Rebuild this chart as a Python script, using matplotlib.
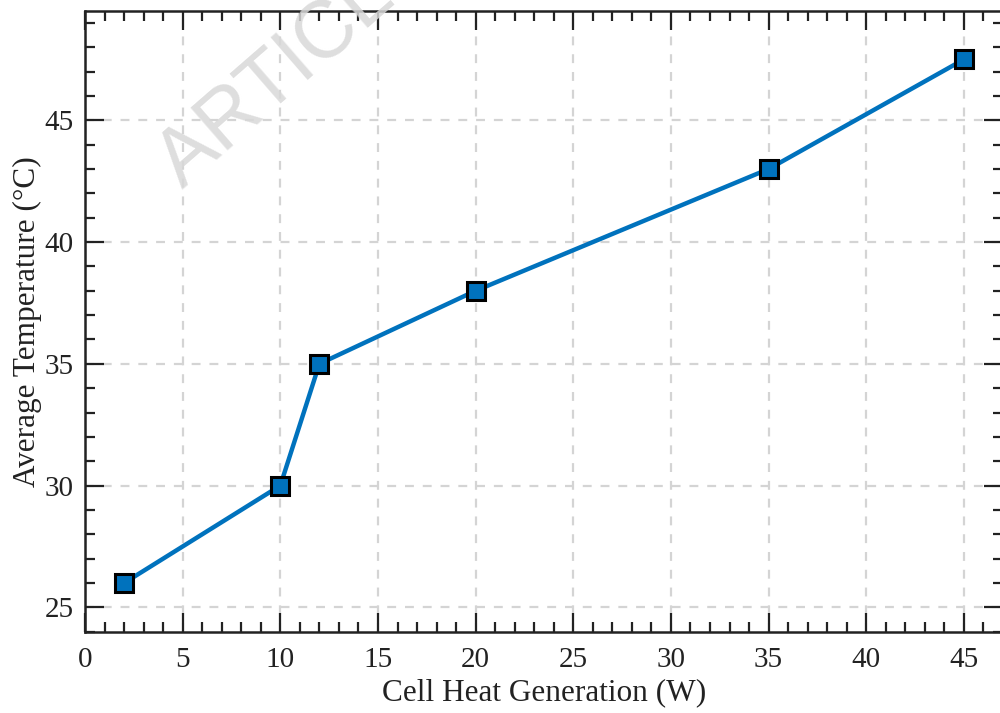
import numpy as np
import matplotlib
matplotlib.use("Agg")
import matplotlib.pyplot as plt
from matplotlib.ticker import MultipleLocator

# cell heat generation (W) vs. average temperature (deg C)
heat_w = [2, 10, 12, 20, 35, 45]
avg_temp = [26, 30, 35, 38, 43, 47.5]

x_ticks = [0, 5, 10, 15, 20, 25, 30, 35, 40, 45]
y_ticks = [25, 30, 35, 40, 45]

plt.rcParams["font.family"] = ["Liberation Serif", "DejaVu Serif"]

fig = plt.figure(figsize=(10, 7.13), dpi=100)
ax = fig.add_axes([0.085, 0.114, 0.918, 0.871])

ax.grid(True, which="major", color="#d4d4d4", linestyle=(0, (4, 4)), linewidth=1.6)
ax.set_axisbelow(True)

ax.plot(heat_w, avg_temp, color="#0072BD", linewidth=3.2, marker="s",
        markersize=13, markerfacecolor="#0072BD", markeredgecolor="black",
        markeredgewidth=2.2, zorder=3)

ax.set_xlim(0, 47)
ax.set_ylim(24, 49.5)
ax.set_xticks(x_ticks)
ax.set_yticks(y_ticks)
ax.xaxis.set_minor_locator(MultipleLocator(1))
ax.yaxis.set_minor_locator(MultipleLocator(1))

ax.tick_params(which="both", direction="in", top=True, right=True,
               labelsize=21, colors="#222222")
ax.tick_params(axis="x", which="both", pad=11)
ax.tick_params(axis="y", which="both", pad=8)
ax.tick_params(which="major", length=14, width=1.6)
ax.tick_params(which="minor", length=7.5, width=1.6)
for sp in ax.spines.values():
    sp.set_linewidth(1.8)
    sp.set_color("#222222")

ax.set_xlabel("Cell Heat Generation (W)", fontsize=22.5, color="#222222", labelpad=4)
ax.set_ylabel("Average Temperature (°C)", fontsize=22.5, color="#222222", labelpad=2)

# watermark
fig.text(0.182, 0.735, "ARTICLE IN PRESS", fontsize=58, color="#d8d8d8",
         family="Liberation Sans", rotation=41, rotation_mode="anchor",
         ha="left", va="baseline", zorder=0, alpha=0.85)

fig.savefig("out.png", dpi=100)
